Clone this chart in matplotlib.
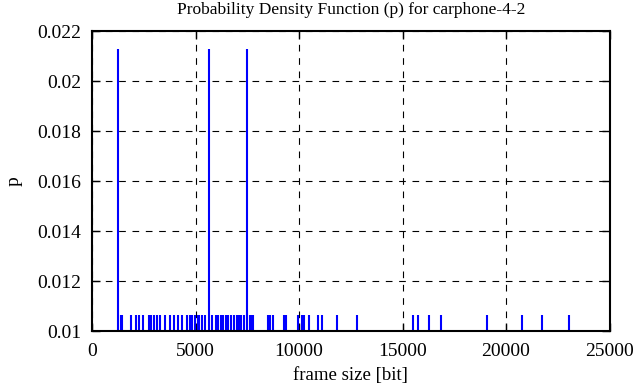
import matplotlib
matplotlib.use("Agg")
import matplotlib.pyplot as plt

# frame sizes [bit] and their probabilities
frame_sizes = [1246, 1377, 1473, 1860, 2126, 2271, 2440, 2754, 2874, 2995,
               3116, 3261, 3527, 3744, 3961, 4169, 4348, 4575, 4734, 4855,
               4976, 5097, 5193, 5314, 5435, 5643, 5797, 6014, 6111, 6232,
               6343, 6473, 6570, 6691, 6836, 6981, 7101, 7222, 7343, 7478,
               7609, 7681, 7778, 8502, 8599, 8720, 9275, 9396, 9952, 10121,
               10242, 10483, 10894, 11135, 11831, 12783, 15522, 15763, 16295,
               16845, 19068, 20758, 21725, 23043]
tall_sizes = [1246, 5643, 7478]
p_single = 0.01064
p_double = 0.02128
probs = [p_double if s in tall_sizes else p_single for s in frame_sizes]

x_ticks = [0, 5000, 10000, 15000, 20000, 25000]
y_ticks = [0.01, 0.012, 0.014, 0.016, 0.018, 0.02, 0.022]
y_labels = ["0.01", "0.012", "0.014", "0.016", "0.018", "0.02", "0.022"]

plt.rcParams['font.family'] = ['Liberation Serif', 'DejaVu Serif']

fig = plt.figure(figsize=(6.36, 3.87), dpi=100)
ax = fig.add_axes([92/636, (387-331)/387, (609.5-92)/636, (331-31)/387])

ax.vlines(frame_sizes, 0, probs, colors=(0, 0, 1), linewidth=1.5, zorder=3)

ax.set_xlim(0, 25000)
ax.set_ylim(0.01, 0.022)
ax.set_xticks(x_ticks)
ax.set_xticklabels([str(t) for t in x_ticks])
ax.set_yticks(y_ticks)
ax.set_yticklabels(y_labels)

ax.grid(True, color='black', linestyle=(0, (6, 6)), linewidth=0.8)
ax.tick_params(direction='in', length=6, width=1, top=True, right=True,
               labelsize=14, colors='black')
ax.tick_params(axis='x', pad=9)
ax.tick_params(axis='y', pad=8)
for s in ax.spines.values():
    s.set_linewidth(1.5)
    s.set_zorder(4)

ax.set_title("Probability Density Function (p) for carphone-4-2", fontsize=12.5, pad=12)
ax.set_xlabel("frame size [bit]", fontsize=13.5, labelpad=5)
ax.set_ylabel("p", fontsize=14, labelpad=10)

fig.savefig("out.png", dpi=100)
